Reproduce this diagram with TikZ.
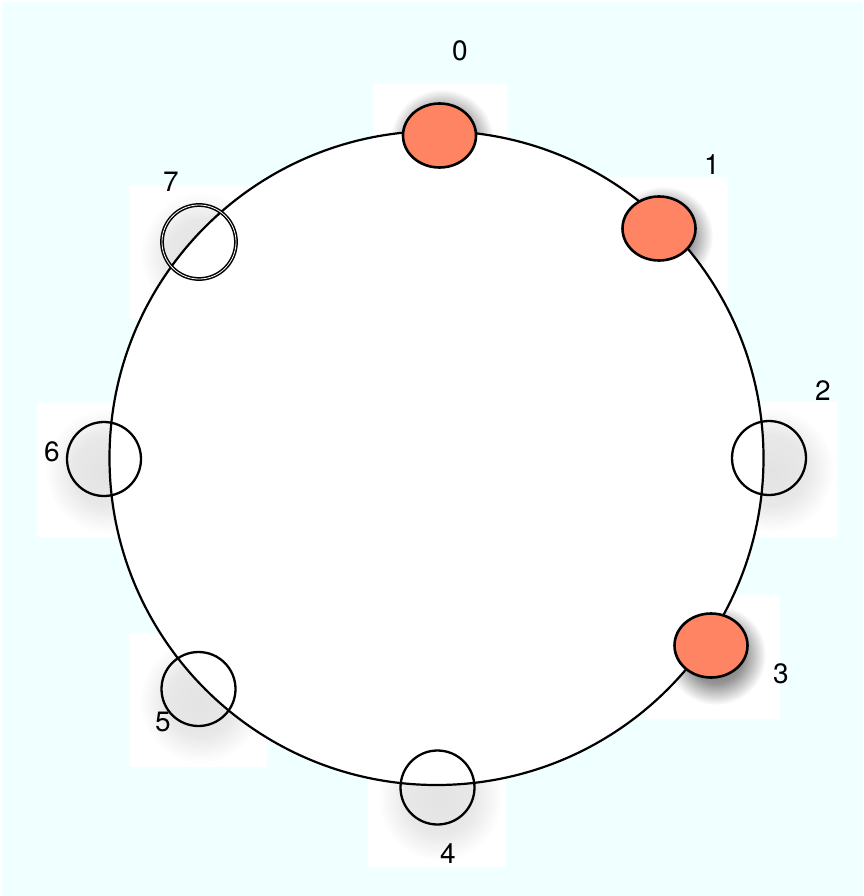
\documentclass[tikz,border=0pt]{standalone}
\usepackage{fontspec}
\setmainfont{TeX Gyre Heros}
\usetikzlibrary{shapes.geometric, positioning}

\definecolor{bgcyan}{HTML}{F0FFFF}
\definecolor{busyred}{HTML}{FF8464}

\pgfdeclareradialshading{lighthalo}{\pgfpointorigin}{color(0bp)=(black!11); color(14bp)=(black!9); color(25bp)=(white); color(50bp)=(white)}
\pgfdeclareradialshading{darkhalo}{\pgfpointorigin}{color(0bp)=(black!60); color(14bp)=(black!42); color(25bp)=(white); color(50bp)=(white)}

\begin{document}
\begin{tikzpicture}[
    x=1pt, y=-1pt,
    ring/.style={circle, draw, fill=white, line width=2.2pt, minimum size=654pt, inner sep=0pt},
    slot/.style={circle, draw, line width=2.3pt, minimum size=74pt, inner sep=0pt},
    busy/.style={ellipse, draw, fill=busyred, line width=2.6pt, minimum width=73pt, minimum height=64pt, inner sep=0pt},
    num/.style={font=\fontsize{28}{30}\selectfont, inner sep=0pt},
]
\useasboundingbox (0,0) rectangle (863,896);
\fill[bgcyan] (2,2) rectangle (863,896);

% white pads with the shadows of the slots
\foreach \ax/\ay/\bx/\by/\cx/\cy/\r/\halo in {
    373/84/507/218/442/141/52/darkhalo,
    593/177/728/311/663/236/50/darkhalo,
    702/402/837/537/772/470/62/lighthalo,
    645/595/780/719/716/655/50/darkhalo,
    368/733/506/867/440/799/62/lighthalo,
    130/633/267/767/201/701/62/lighthalo,
    37/403/172/537/107/471/62/lighthalo,
    130/185/265/319/202/254/62/lighthalo} {
  \begin{scope}
    \clip (\ax,\ay) rectangle (\bx,\by);
    \fill[white] (\ax,\ay) rectangle (\bx,\by);
    \shade[shading=\halo] (\cx,\cy) circle (\r pt);
  \end{scope}
}

% Ring
\node[ring] (ring) at (436.5,458) {};

% Slots
\node[busy] (n0) at (439.5,135.5) {};
\node[busy] (n1) at (659,228.5) {};
\node[slot] (n2) at (769,458) {};
\node[busy] (n3) at (711,645.5) {};
\node[slot] (n4) at (437.5,787.5) {};
\node[slot] (n5) at (198.5,689) {};
\node[slot] (n6) at (104,459) {};
\node[slot, double, double distance=0.8pt, line width=1.5pt] (n7) at (199,242) {};

% Labels
\node[num] (l0) at (460,51) {0};
\node[num] (l1) at (712,165) {1};
\node[num] (l2) at (823,391) {2};
\node[num] (l3) at (781,674) {3};
\node[num] (l4) at (448,854) {4};
\node[num] (l5) at (163,722) {5};
\node[num] (l6) at (52,452) {6};
\node[num] (l7) at (171,182) {7};

\end{tikzpicture}
\end{document}
